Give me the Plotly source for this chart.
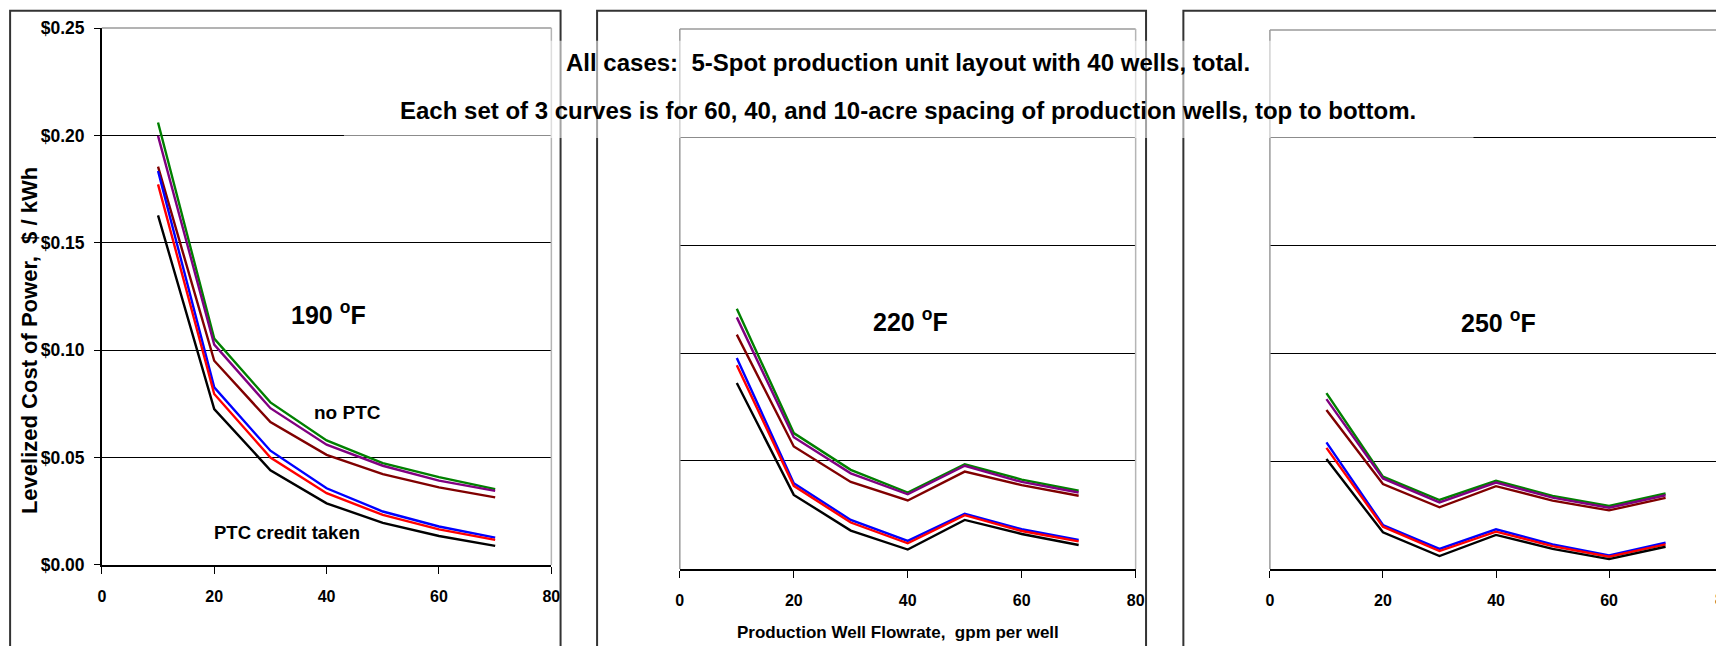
import plotly.graph_objects as go

# Figure size, and the measured mapping from figure pixels to the photographed
# picture (final = A + S * figure); positions below are given in final pixels.
W, H = 1728, 660
AX, SX = 3.2, 0.992
AY, SY = 9.3, 0.968


def px_x(F):
    return ((F - AX) / SX) / W


def px_y(F):
    return 1 - ((F - AY) / SY) / H


flow_gpm = [10, 20, 30, 40, 50, 60, 70]
x_ticks = [0, 20, 40, 60, 80]
y_ticks = [0.0, 0.05, 0.10, 0.15, 0.20, 0.25]
y_tick_labels = ["$0.00", "$0.05", "$0.10", "$0.15", "$0.20", "$0.25"]

series_labels = ["60-acre, no PTC", "40-acre, no PTC", "10-acre, no PTC",
                 "60-acre, PTC", "40-acre, PTC", "10-acre, PTC"]
series_colors = ["#008000", "#800080", "#800000", "#0000FF", "#FF0000", "#000000"]

# 190 F
t190_60_noptc = [0.206, 0.1054, 0.0757, 0.0580, 0.0474, 0.0409, 0.0353]
t190_40_noptc = [0.1998, 0.1026, 0.0730, 0.0560, 0.0462, 0.0393, 0.0345]
t190_10_noptc = [0.1855, 0.0951, 0.0665, 0.0513, 0.0423, 0.0361, 0.0315]
t190_60_ptc = [0.1834, 0.0827, 0.0532, 0.0357, 0.0249, 0.0179, 0.0127]
t190_40_ptc = [0.1772, 0.0796, 0.0500, 0.0334, 0.0233, 0.0166, 0.0117]
t190_10_ptc = [0.1628, 0.0726, 0.0441, 0.0287, 0.0196, 0.0135, 0.0089]

# 220 F
t220_60_noptc = [0.1205, 0.0629, 0.0459, 0.0354, 0.0485, 0.0414, 0.0362]
t220_40_noptc = [0.1165, 0.0610, 0.0443, 0.0346, 0.0478, 0.0403, 0.0354]
t220_10_noptc = [0.1085, 0.0567, 0.0403, 0.0317, 0.0451, 0.0388, 0.0339]
t220_60_ptc = [0.0977, 0.0397, 0.0227, 0.0130, 0.0256, 0.0184, 0.0134]
t220_40_ptc = [0.0943, 0.0385, 0.0215, 0.0119, 0.0249, 0.0176, 0.0128]
t220_10_ptc = [0.0861, 0.0343, 0.0178, 0.0090, 0.0227, 0.0162, 0.0111]

# 250 F
t250_60_noptc = [0.0816, 0.0428, 0.0320, 0.0409, 0.0339, 0.0292, 0.0350]
t250_40_noptc = [0.0788, 0.0420, 0.0309, 0.0401, 0.0331, 0.0284, 0.0342]
t250_10_noptc = [0.0737, 0.0394, 0.0286, 0.0384, 0.0317, 0.0272, 0.0330]
t250_60_ptc = [0.0587, 0.0204, 0.0093, 0.0184, 0.0114, 0.0063, 0.0122]
t250_40_ptc = [0.0562, 0.0196, 0.0083, 0.0173, 0.0106, 0.0057, 0.0114]
t250_10_ptc = [0.0510, 0.0170, 0.0060, 0.0158, 0.0093, 0.0046, 0.0103]

panel_series = [
    [t190_60_noptc, t190_40_noptc, t190_10_noptc, t190_60_ptc, t190_40_ptc, t190_10_ptc],
    [t220_60_noptc, t220_40_noptc, t220_10_noptc, t220_60_ptc, t220_40_ptc, t220_10_ptc],
    [t250_60_noptc, t250_40_noptc, t250_10_noptc, t250_60_ptc, t250_40_ptc, t250_10_ptc],
]
panel_temps = ["190", "220", "250"]

SANS = "Liberation Sans, Arial, sans-serif"

# plot areas in final pixels (left, right, top, bottom)
geom = [
    (101.0, 550.3, 27.3, 563.3),
    (678.7, 1134.3, 28.3, 567.3),
    (1268.5, 1716.0, 29.3, 567.3),
]
x_ranges = [[0, 80], [0, 80], [0, (1716.0 - 1268.5) / 113.0 * 20]]

fig = go.Figure()
for p, sers in enumerate(panel_series):
    axn = "" if p == 0 else str(p + 1)
    for name, col, vals in zip(series_labels, series_colors, sers):
        fig.add_trace(go.Scatter(
            x=flow_gpm, y=vals, mode="lines", name=name,
            line=dict(color=col, width=2.4), xaxis="x" + axn, yaxis="y" + axn,
            showlegend=False, hoverinfo="x+y+name"))

layout = dict(
    width=W, height=H, autosize=False,
    margin=dict(l=0, r=0, t=0, b=0, pad=0),
    paper_bgcolor="white", plot_bgcolor="white",
    showlegend=False,
)

shapes = []
annotations = []
for p in range(3):
    l, r, t, b = geom[p]
    axn = "" if p == 0 else str(p + 1)
    layout["xaxis" + axn] = dict(
        domain=[px_x(l), min(1.0, px_x(r))], range=x_ranges[p], anchor="y" + axn,
        tickvals=x_ticks, showgrid=False, zeroline=False,
        showline=True, linecolor="black", linewidth=1.5,
        ticks="outside", ticklen=7, tickcolor="black", tickwidth=1,
        ticklabelstandoff=9,
        tickfont=dict(family=SANS, size=16, color="black", weight="bold"),
    )
    ydict = dict(
        domain=[px_y(b), px_y(t)], range=[0, 0.25], anchor="x" + axn,
        tickvals=y_ticks, showgrid=True, gridcolor="black", gridwidth=1,
        zeroline=False,
    )
    if p == 0:
        ydict.update(showline=True, linecolor="black", linewidth=1.5,
                     ticks="outside", ticklen=6, tickcolor="black",
                     ticktext=y_tick_labels, ticklabelstandoff=6,
                     tickfont=dict(family=SANS, size=17.5, color="black", weight="bold"))
    else:
        ydict.update(showline=False, showticklabels=False, ticks="")
    layout["yaxis" + axn] = ydict

    xd = ("x" + axn) + " domain"
    yd = ("y" + axn) + " domain"
    shapes.append(dict(type="line", xref=xd, yref=yd, x0=0, x1=1, y0=1, y1=1,
                       line=dict(color="#9a9a9a", width=1.5), layer="above"))
    if p < 2:
        shapes.append(dict(type="line", xref=xd, yref=yd, x0=1, x1=1, y0=0, y1=1,
                           line=dict(color="#b5b5b5", width=1.5), layer="above"))
    if p > 0:
        shapes.append(dict(type="line", xref=xd, yref=yd, x0=0, x1=0, y0=0, y1=1,
                           line=dict(color="#9a9a9a", width=1.5), layer="above"))

    annotations.append(dict(
        xref="x" + axn, yref="y" + axn, x=40.4, y=0.1175 if p == 0 else 0.1152,
        text="<b>%s <sup>o</sup>F</b>" % panel_temps[p], showarrow=False,
        font=dict(family=SANS, size=25, color="black"),
        xanchor="center", yanchor="middle"))

# outer chart frames (final pixels)
frames_px = [(9.3, 559.5), (596.0, 1144.7), (1182.0, 1800.0)]
for x0, x1 in frames_px:
    shapes.append(dict(type="rect", xref="paper", yref="paper",
                       x0=px_x(x0), x1=px_x(x1), y0=-0.1, y1=px_y(10),
                       line=dict(color="#333333", width=2), fillcolor="rgba(0,0,0,0)",
                       layer="above"))

# semi-transparent caption box
shapes.append(dict(type="rect", xref="paper", yref="paper",
                   x0=px_x(343), x1=px_x(1472), y0=px_y(137), y1=px_y(40),
                   line=dict(width=0), fillcolor="rgba(255,255,255,0.55)", layer="above"))

annotations += [
    dict(xref="paper", yref="paper", x=px_x(907), y=px_y(62),
         text="<b>All cases:  5-Spot production unit layout with 40 wells, total.</b>",
         showarrow=False, font=dict(family=SANS, size=24, color="black"),
         xanchor="center", yanchor="middle"),
    dict(xref="paper", yref="paper", x=px_x(907), y=px_y(109.5),
         text="<b>Each set of 3 curves is for 60, 40, and 10-acre spacing of production wells, top to bottom.</b>",
         showarrow=False, font=dict(family=SANS, size=24, color="black"),
         xanchor="center", yanchor="middle"),
    dict(xref="x", yref="y", x=43.8, y=0.0712, text="<b>no PTC</b>", showarrow=False,
         font=dict(family=SANS, size=19, color="black"), xanchor="center", yanchor="middle"),
    dict(xref="x", yref="y", x=32.9, y=0.0152, text="<b>PTC credit taken</b>", showarrow=False,
         font=dict(family=SANS, size=18.5, color="black"), xanchor="center", yanchor="middle"),
    dict(xref="paper", yref="paper", x=px_x(897), y=px_y(631),
         text="<b>Production Well Flowrate,  gpm per well</b>", showarrow=False,
         font=dict(family=SANS, size=17, color="black"), xanchor="center", yanchor="middle"),
    dict(xref="paper", yref="paper", x=px_x(28), y=px_y(339),
         text="<b>Levelized Cost of Power,  $ / kWh</b>", showarrow=False, textangle=-90,
         font=dict(family=SANS, size=22, color="black"), xanchor="center", yanchor="middle"),
    # last x tick of the third panel, cut by the right edge as in the original
    dict(xref="paper", yref="paper", x=px_x(1711), y=px_y(597.3), text="<b>80</b>",
         showarrow=False, font=dict(family=SANS, size=16, color="black"),
         xanchor="left", yanchor="middle"),
]

layout["shapes"] = shapes
layout["annotations"] = annotations
fig.update_layout(**layout)
fig.write_html("out.html", config={"responsive": False, "displayModeBar": False})
